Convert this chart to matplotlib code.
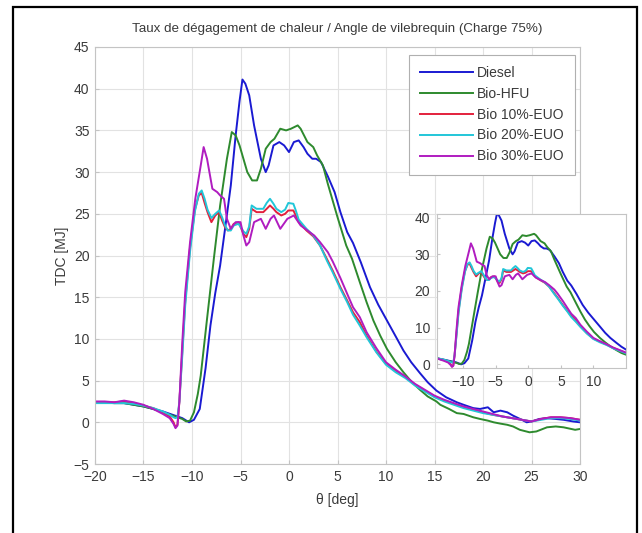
import matplotlib
matplotlib.use("Agg")
import matplotlib.pyplot as plt
from matplotlib.patches import Rectangle

plt.rcParams['font.family'] = ['Liberation Sans', 'DejaVu Sans']

# Crank angle (deg) and heat release rate (MJ) for each fuel
theta_diesel = [-20, -18, -17, -16, -15, -14, -13, -12, -11, -10.3, -9.8, -9.2, -8.6, -8.1,
                -7.6, -7.1, -6.5, -6.0, -5.5, -5.1, -4.8, -4.5, -4.1, -3.6, -2.9, -2.4, -2.1,
                -1.6, -1.0, -0.5, 0, 0.5, 1.0, 1.5, 1.9, 2.4, 2.8, 3.3, 4.0, 4.7, 5.3, 6.0,
                6.6, 7.4, 8.35, 9.2, 10.1, 11, 11.8, 12.6, 13.5, 14.3, 15.2, 16.2, 17.3, 18,
                19, 19.7, 20.5, 21.1, 21.8, 22.5, 23.1, 24, 24.5, 25, 25.8, 26.6, 27.5, 28.3,
                29.3, 30]
hrr_diesel = [2.4, 2.3, 2.3, 2.1, 1.9, 1.6, 1.3, 0.9, 0.5, 0.0, 0.3, 1.6, 6.5, 11.6,
              15.5, 18.8, 24.0, 28.4, 34.4, 38.5, 41.1, 40.6, 39.2, 35.6, 31.6, 30.0, 30.8,
              33.2, 33.6, 33.2, 32.4, 33.6, 33.8, 33.0, 32.2, 31.6, 31.6, 31.2, 29.5, 27.6,
              25.2, 22.8, 21.5, 19.2, 16.2, 14.1, 12.2, 10.3, 8.6, 7.2, 5.9, 4.8, 3.8, 3.0,
              2.4, 2.1, 1.7, 1.6, 1.8, 1.2, 1.4, 1.2, 0.8, 0.3, 0.0, 0.1, 0.4, 0.5, 0.4,
              0.3, 0.1, 0.0]

theta_hfu = [-20, -18, -17, -16, -15, -14, -13, -12, -11, -10.6, -10.2, -9.8, -9.4, -9.1,
             -8.45, -7.75, -7.1, -6.4, -5.9, -5.5, -5.1, -4.8, -4.3, -3.8, -3.3, -2.9, -2.4,
             -1.9, -1.5, -0.9, -0.3, 0.2, 0.9, 1.2, 1.9, 2.5, 2.9, 3.5, 4.0, 4.6, 5.0, 5.9,
             6.5, 7.3, 8.0, 8.7, 9.4, 10.1, 11, 11.8, 12.6, 13.5, 14.3, 15.2, 15.6, 16.5,
             17.3, 18, 19, 19.7, 20.5, 21.1, 21.8, 22.5, 23.1, 23.8, 24.8, 25.5, 26.6, 27.5,
             28.3, 29.5, 30]
hrr_hfu = [2.4, 2.3, 2.3, 2.1, 1.9, 1.6, 1.2, 0.8, 0.4, 0.1, 0.2, 1.2, 3.4, 5.6,
           12.4, 19.6, 26.0, 31.6, 34.8, 34.4, 33.2, 32.0, 30.0, 29.0, 29.0, 30.4, 32.8,
           33.6, 34.0, 35.2, 35.0, 35.2, 35.6, 35.2, 33.6, 33.0, 32.0, 30.8, 28.6, 26.2,
           24.6, 21.2, 19.6, 16.8, 14.4, 12.2, 10.4, 8.8, 7.2, 6.0, 4.9, 3.9, 3.1, 2.5,
           2.1, 1.6, 1.1, 1.0, 0.6, 0.4, 0.2, 0.0, -0.16, -0.3, -0.5, -0.9, -1.2, -1.1,
           -0.6, -0.5, -0.6, -0.9, -0.8]

theta_euo = [-20, -19, -18, -17, -16, -15, -14, -13, -12.3, -11.9, -11.7, -11.5, -11.3,
             -11.0, -10.7, -10.2, -9.7, -9.3, -9.0, -8.7, -8.4, -8.0, -7.6, -7.2, -6.9,
             -6.6, -6.3, -6.0, -5.7, -5.2, -4.7, -4.4, -4.1, -3.85, -3.35, -2.65, -2.3,
             -1.96, -1.6, -1.3, -0.8, -0.4, -0.07, 0.45, 0.7, 1.0, 1.8, 2.5, 3.2, 3.9, 4.5,
             5.3, 6.0, 6.6, 7.3, 8.0, 9.0, 10, 11, 12, 13, 14, 15, 16, 17, 18, 19, 20, 21,
             22, 23, 24, 25, 26, 27, 28, 29, 30]
hrr_euo10 = [2.4, 2.4, 2.4, 2.5, 2.3, 2.0, 1.7, 1.2, 0.7, 0.0, -0.6, -0.3, 2.5,
             8.5, 14.5, 21.0, 25.5, 27.2, 27.5, 26.3, 25.2, 24.0, 24.8, 25.2, 24.2,
             23.4, 23.0, 23.2, 23.8, 24.0, 22.6, 22.2, 23.2, 25.6, 25.2, 25.2, 25.6,
             26.0, 25.6, 25.2, 24.8, 25.0, 25.4, 25.4, 24.8, 24.0, 23.0, 22.3, 21.2, 19.6,
             18.2, 16.2, 14.6, 13.2, 12.0, 10.4, 8.5, 7.0, 6.2, 5.4, 4.5, 3.8, 3.1, 2.6,
             2.2, 1.8, 1.5, 1.2, 0.9, 0.7, 0.5, 0.3, 0.1, 0.4, 0.6, 0.6, 0.5, 0.3]
hrr_euo20 = [2.3, 2.3, 2.3, 2.3, 2.2, 2.0, 1.7, 1.3, 0.9, 0.6, 0.5, 0.6, 2.5,
             8.0, 14.0, 20.5, 25.3, 27.4, 27.8, 26.8, 25.5, 24.5, 25.0, 25.4, 24.6,
             23.6, 23.0, 23.0, 23.6, 23.8, 22.9, 22.6, 23.5, 26.0, 25.6, 25.6, 26.3,
             26.8, 26.2, 25.6, 25.2, 25.5, 26.3, 26.2, 25.4, 24.3, 23.2, 22.4, 21.2, 19.4,
             18.0, 16.0, 14.4, 12.9, 11.6, 10.2, 8.4, 6.9, 6.0, 5.3, 4.4, 3.7, 3.0, 2.5,
             2.1, 1.7, 1.4, 1.1, 0.9, 0.7, 0.5, 0.3, 0.1, 0.3, 0.5, 0.5, 0.4, 0.2]

theta_euo30 = [-20, -19, -18, -17, -16, -15, -14, -13, -12.3, -11.9, -11.7, -11.5, -11.3,
               -11.0, -10.7, -10.2, -9.66, -9.1, -8.8, -8.45, -7.9, -7.4, -7.1, -6.7, -6.4,
               -6.0, -5.5, -5.0, -4.7, -4.4, -4.1, -3.6, -2.9, -2.4, -1.9, -1.55, -0.9,
               -0.17, 0.5, 1.2, 1.9, 2.6, 3.2, 4.0, 4.5, 5.3, 6.0, 6.6, 7.3, 8.0, 9.0, 10,
               11, 12, 13, 14, 15, 16, 17, 18, 19, 20, 21, 22, 23, 24, 25, 26, 27, 28, 29, 30]
hrr_euo30 = [2.5, 2.5, 2.4, 2.6, 2.4, 2.1, 1.6, 1.0, 0.5, -0.2, -0.7, -0.4, 2.5,
             9.6, 15.6, 21.6, 26.8, 30.8, 33.0, 31.6, 28.0, 27.6, 27.2, 26.8, 24.4,
             23.2, 24.0, 24.0, 22.4, 21.2, 21.6, 24.0, 24.4, 23.2, 24.4, 24.8, 23.2,
             24.4, 24.8, 23.6, 23.0, 22.4, 21.6, 20.4, 19.3, 17.3, 15.4, 13.8, 12.6, 10.8,
             8.9, 7.2, 6.3, 5.5, 4.6, 3.9, 3.2, 2.7, 2.3, 1.9, 1.6, 1.3, 1.0, 0.7, 0.5,
             0.3, 0.1, 0.4, 0.6, 0.6, 0.5, 0.3]

labels = ['Diesel', 'Bio-HFU', 'Bio 10%-EUO', 'Bio 20%-EUO', 'Bio 30%-EUO']
colors = ['#1a1ad2', '#2e8a2e', '#e3203c', '#22c6d8', '#b01cc0']
series = [(theta_diesel, hrr_diesel), (theta_hfu, hrr_hfu), (theta_euo, hrr_euo10),
          (theta_euo, hrr_euo20), (theta_euo30, hrr_euo30)]

W, H = 642, 533
fig = plt.figure(figsize=(W / 100, H / 100), dpi=100)


def frac(x0, y0, x1, y1):
    return [x0 / W, 1 - y1 / H, (x1 - x0) / W, (y1 - y0) / H]


text_col = '#3a3a3a'
frame_col = '#c4c4c4'

# outer frame around the figure
fig.patches.append(Rectangle((13 / W, -0.02), (637 - 13) / W, 1 - 7 / H + 0.02,
                             transform=fig.transFigure, fill=False,
                             edgecolor='black', linewidth=1.6))

ax = fig.add_axes(frac(95, 47, 580, 464))
for (t, v), c, lab in zip(series, colors, labels):
    ax.plot(t, v, color=c, lw=1.4, label=lab)
ax.set_xlim(-20, 30)
ax.set_ylim(-5, 45)
ax.set_xticks(range(-20, 31, 5))
ax.set_yticks(range(-5, 46, 5))
ax.grid(True, color='#e2e2e2', lw=0.8)
ax.set_axisbelow(True)
for s in ax.spines.values():
    s.set_color(frame_col)
    s.set_linewidth(0.8)
ax.tick_params(direction='in', length=3, color=frame_col, labelsize=10,
               labelcolor=text_col, pad=4)
ax.set_title('Taux de dégagement de chaleur / Angle de vilebrequin (Charge 75%)',
             fontsize=9.6, color=text_col, pad=11)
ax.set_xlabel('θ [deg]', fontsize=10, color=text_col, labelpad=7)
ax.set_ylabel('TDC [MJ]', fontsize=10, color=text_col, labelpad=3)

leg = ax.legend(loc='upper right', bbox_to_anchor=(0.99, 0.982), fontsize=10,
                handlelength=3.8, handletextpad=0.3, labelspacing=0.5,
                borderpad=0.8, fancybox=False, framealpha=1, borderaxespad=0)
leg.get_frame().set_edgecolor('#b0b0b0')
leg.get_frame().set_linewidth(0.8)
for txt in leg.get_texts():
    txt.set_color(text_col)

# inset with the combustion window
axi = fig.add_axes(frac(437, 214, 626, 368))
for (t, v), c in zip(series, colors):
    axi.plot(t, v, color=c, lw=1.4)
axi.set_xlim(-14, 15)
axi.set_ylim(-1, 41)
axi.set_xticks([-10, -5, 0, 5, 10])
axi.set_yticks([0, 10, 20, 30, 40])
axi.set_facecolor('white')
for s in axi.spines.values():
    s.set_color(frame_col)
    s.set_linewidth(0.8)
axi.tick_params(direction='in', length=2, color=frame_col, labelsize=10,
                labelcolor=text_col, pad=5)

fig.savefig('out.png', dpi=100)
